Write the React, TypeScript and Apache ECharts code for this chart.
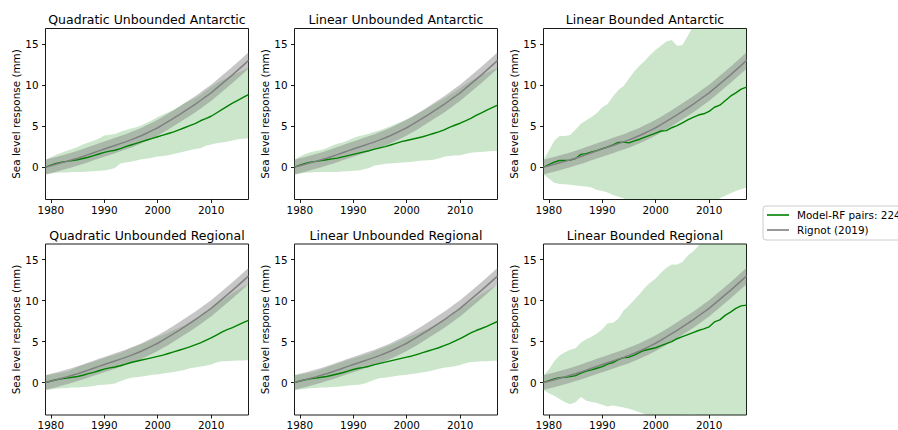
import React, { useEffect, useRef } from "react";
import * as echarts from "echarts";

// ---- data (sea level response, mm, 1979–2017) ----
const years = [
  "1979", "1980", "1981", "1982", "1983", "1984", "1985", "1986", "1987", "1988",
  "1989", "1990", "1991", "1992", "1993", "1994", "1995", "1996", "1997", "1998",
  "1999", "2000", "2001", "2002", "2003", "2004", "2005", "2006", "2007", "2008",
  "2009", "2010", "2011", "2012", "2013", "2014", "2015", "2016", "2017",
];
const xTickYears = [1980, 1990, 2000, 2010];
const yTicks = [0, 5, 10, 15];

// Rignot (2019) cumulative contribution and its uncertainty
const rignotMid = [
  0.0, 0.17, 0.34, 0.52, 0.7, 0.89, 1.09, 1.3, 1.52, 1.75,
  1.98, 2.2, 2.42, 2.64, 2.86, 3.08, 3.32, 3.58, 3.86, 4.16,
  4.47, 4.8, 5.18, 5.57, 5.97, 6.38, 6.8, 7.22, 7.66, 8.12,
  8.58, 9.05, 9.6, 10.15, 10.7, 11.25, 11.82, 12.4, 13.0,
];
const rignotErr = [
  0.9, 0.9, 0.9, 0.9, 0.9, 0.9, 0.9, 0.92, 0.92, 0.92,
  0.93, 0.93, 0.93, 0.94, 0.94, 0.94, 0.95, 0.95, 0.95, 0.96,
  0.96, 0.96, 0.97, 0.97, 0.97, 0.98, 0.98, 0.98, 0.99, 0.99,
  0.99, 1.0, 1.0, 1.0, 1.0, 1.0, 1.0, 1.0, 1.0,
];

// Quadratic Unbounded Antarctic
const quaMid = [
  0.0, 0.25, 0.45, 0.6, 0.7, 0.8, 0.9, 1.05, 1.2, 1.4,
  1.6, 1.8, 1.95, 2.05, 2.25, 2.5, 2.7, 2.9, 3.1, 3.3,
  3.5, 3.7, 3.9, 4.1, 4.3, 4.55, 4.8, 5.05, 5.3, 5.65,
  5.9, 6.2, 6.6, 7.0, 7.4, 7.8, 8.15, 8.5, 8.85,
];
const quaLow = [
  -0.9, -0.8, -0.7, -0.65, -0.65, -0.6, -0.6, -0.6, -0.55, -0.5,
  -0.45, -0.4, -0.3, -0.1, 0.45, 0.55, 0.65, 0.8, 0.95, 1.05,
  1.15, 1.3, 1.35, 1.45, 1.6, 1.75, 1.9, 2.05, 2.2, 2.3,
  2.6, 2.75, 2.9, 3.0, 3.1, 3.25, 3.4, 3.45, 3.5,
];
const quaHigh = [
  0.9, 1.2, 1.5, 1.75, 2.0, 2.2, 2.45, 2.75, 3.0, 3.2,
  3.5, 3.85, 3.95, 4.05, 4.3, 4.5, 4.7, 4.85, 5.1, 5.4,
  5.75, 6.1, 6.4, 6.7, 7.0, 7.4, 7.8, 8.1, 8.4, 8.8,
  9.3, 9.8, 10.2, 10.6, 10.9, 11.2, 11.5, 11.8, 12.1,
];

// Linear Unbounded Antarctic
const luaMid = [
  0.0, 0.25, 0.45, 0.6, 0.7, 0.8, 0.9, 1.0, 1.1, 1.25,
  1.4, 1.55, 1.7, 1.85, 2.0, 2.2, 2.35, 2.5, 2.7, 2.9,
  3.1, 3.25, 3.4, 3.55, 3.7, 3.9, 4.1, 4.3, 4.55, 4.85,
  5.1, 5.35, 5.65, 5.95, 6.3, 6.6, 6.95, 7.25, 7.55,
];
const luaLow = [
  -0.9, -0.8, -0.7, -0.65, -0.6, -0.6, -0.6, -0.6, -0.6, -0.55,
  -0.5, -0.45, -0.4, -0.25, -0.1, 0.2, 0.3, 0.4, 0.45, 0.5,
  0.55, 0.6, 0.65, 0.75, 0.8, 0.85, 0.9, 1.05, 1.25, 1.35,
  1.4, 1.45, 1.6, 1.75, 1.8, 1.85, 1.9, 1.95, 1.95,
];
const luaHigh = [
  0.9, 1.3, 1.6, 1.8, 1.95, 2.1, 2.3, 2.6, 2.85, 3.0,
  3.25, 3.55, 3.75, 3.9, 4.1, 4.3, 4.5, 4.75, 5.0, 5.25,
  5.55, 5.85, 6.15, 6.5, 6.85, 7.2, 7.6, 8.0, 8.35, 8.75,
  9.2, 9.65, 10.1, 10.5, 10.85, 11.2, 11.5, 11.8, 12.1,
];

// Linear Bounded Antarctic
const lbaMid = [
  0.0, 0.3, 0.6, 0.8, 0.8, 0.85, 1.05, 1.55, 1.65, 1.85,
  2.0, 2.25, 2.45, 2.7, 3.0, 3.05, 2.95, 3.2, 3.4, 3.65,
  3.9, 4.15, 4.4, 4.45, 4.8, 5.05, 5.4, 5.75, 6.05, 6.35,
  6.5, 6.8, 7.3, 7.55, 8.1, 8.65, 9.05, 9.5, 9.75,
];
const lbaLow = [
  -0.9, -1.4, -1.9, -2.05, -2.1, -2.15, -2.25, -2.3, -2.35, -2.5,
  -2.8, -2.9, -3.1, -3.4, -3.6, -3.8, -4.2, -4.6, -4.9, -5.2,
  -5.4, -5.6, -5.7, -5.8, -5.8, -5.7, -5.6, -5.5, -5.3, -5.1,
  -4.9, -4.6, -4.3, -3.8, -3.5, -3.2, -2.9, -2.7, -2.5,
];
const lbaHigh = [
  0.9, 2.0, 3.2, 3.8, 3.8, 3.9, 4.6, 5.3, 5.7, 6.1,
  6.6, 7.3, 7.7, 8.6, 9.4, 9.9, 10.8, 11.7, 12.4, 13.0,
  13.7, 14.3, 14.8, 15.3, 15.5, 14.8, 14.9, 16.0, 17.2, 18.0,
  18.8, 19.6, 20.4, 21.2, 22.0, 22.8, 23.6, 24.4, 25.2,
];

// Quadratic Unbounded Regional
const qurMid = [
  0.0, 0.2, 0.35, 0.45, 0.55, 0.65, 0.75, 0.9, 1.1, 1.25,
  1.45, 1.65, 1.8, 1.9, 2.05, 2.25, 2.45, 2.6, 2.75, 2.9,
  3.05, 3.2, 3.35, 3.55, 3.75, 3.95, 4.15, 4.35, 4.6, 4.85,
  5.15, 5.45, 5.8, 6.15, 6.45, 6.7, 7.0, 7.3, 7.6,
];
const qurLow = [
  -0.9, -0.85, -0.75, -0.7, -0.65, -0.6, -0.6, -0.55, -0.5, -0.4,
  -0.3, -0.25, -0.2, -0.1, 0.15, 0.4, 0.6, 0.65, 0.75, 0.85,
  0.95, 1.0, 1.1, 1.2, 1.3, 1.4, 1.55, 1.75, 1.85, 1.95,
  2.05, 2.2, 2.45, 2.6, 2.6, 2.65, 2.7, 2.7, 2.75,
];
const qurHigh = [
  0.9, 1.0, 1.1, 1.2, 1.3, 1.6, 1.9, 2.15, 2.35, 2.55,
  2.8, 3.0, 3.2, 3.4, 3.6, 3.9, 4.2, 4.45, 4.7, 4.95,
  5.3, 5.6, 5.85, 6.1, 6.4, 6.7, 7.0, 7.4, 7.8, 8.2,
  8.65, 9.1, 9.55, 10.0, 10.45, 10.9, 11.3, 11.7, 12.0,
];

// Linear Unbounded Regional
const lurMid = [
  0.0, 0.2, 0.35, 0.45, 0.55, 0.65, 0.75, 0.9, 1.05, 1.2,
  1.4, 1.6, 1.75, 1.85, 2.0, 2.2, 2.35, 2.5, 2.65, 2.8,
  2.95, 3.1, 3.25, 3.45, 3.65, 3.85, 4.05, 4.25, 4.5, 4.75,
  5.05, 5.35, 5.7, 6.05, 6.35, 6.6, 6.85, 7.15, 7.45,
];
const lurLow = [
  -0.9, -0.85, -0.75, -0.7, -0.65, -0.6, -0.6, -0.55, -0.5, -0.45,
  -0.35, -0.3, -0.25, -0.15, 0.1, 0.35, 0.55, 0.6, 0.7, 0.8,
  0.9, 0.95, 1.05, 1.15, 1.25, 1.35, 1.5, 1.7, 1.8, 1.9,
  2.0, 2.15, 2.35, 2.5, 2.55, 2.6, 2.6, 2.65, 2.65,
];
const lurHigh = [
  0.9, 1.0, 1.1, 1.2, 1.35, 1.6, 1.85, 2.1, 2.3, 2.5,
  2.75, 2.95, 3.15, 3.35, 3.55, 3.85, 4.1, 4.35, 4.6, 4.85,
  5.2, 5.5, 5.75, 6.0, 6.3, 6.6, 6.9, 7.3, 7.7, 8.1,
  8.55, 9.0, 9.45, 9.9, 10.35, 10.8, 11.2, 11.6, 11.9,
];

// Linear Bounded Regional
const lbrMid = [
  0.0, 0.25, 0.45, 0.6, 0.65, 0.73, 0.85, 1.15, 1.4, 1.55,
  1.75, 1.95, 2.25, 2.45, 2.8, 3.05, 3.1, 3.35, 3.7, 3.95,
  4.1, 4.25, 4.5, 4.75, 5.0, 5.35, 5.6, 5.85, 6.1, 6.35,
  6.55, 6.8, 7.4, 7.65, 8.2, 8.6, 9.05, 9.35, 9.45,
];
const lbrLow = [
  -0.9, -1.3, -1.6, -2.0, -2.4, -2.65, -2.4, -1.75, -2.2, -2.35,
  -2.5, -2.7, -2.9, -2.8, -2.9, -3.05, -3.2, -3.4, -3.6, -3.85,
  -4.1, -4.3, -4.4, -4.4, -4.3, -4.2, -4.05, -3.9, -3.85, -4.05,
  -4.3, -4.6, -4.9, -5.2, -5.5, -5.8, -6.0, -6.2, -6.4,
];
const lbrHigh = [
  0.9, 1.6, 2.6, 3.3, 3.7, 4.0, 4.2, 4.9, 5.3, 5.6,
  6.0, 6.5, 7.25, 7.3, 7.8, 8.8, 9.4, 10.1, 10.8, 11.6,
  12.2, 12.7, 13.4, 14.0, 14.4, 14.4, 14.7, 15.5, 16.0, 16.7,
  17.4, 18.1, 18.8, 19.5, 20.2, 20.9, 21.6, 22.3, 23.0,
];

const panelTitles = [
  "Quadratic Unbounded Antarctic",
  "Linear Unbounded Antarctic",
  "Linear Bounded Antarctic",
  "Quadratic Unbounded Regional",
  "Linear Unbounded Regional",
  "Linear Bounded Regional",
];
const panelMid = [quaMid, luaMid, lbaMid, qurMid, lurMid, lbrMid];
const panelLow = [quaLow, luaLow, lbaLow, qurLow, lurLow, lbrLow];
const panelHigh = [quaHigh, luaHigh, lbaHigh, qurHigh, lurHigh, lbrHigh];

const MODEL_NAME = "Model-RF pairs: 224";
const OBS_NAME = "Rignot (2019)";

// ---- layout & style ----
const FONT = "DejaVu Sans";
const COL_LEFT = [45.5, 294.5, 543.5];
const ROW_TOP = [28.5, 244];
const TITLE_Y = [19, 235];
const PLOT_W = 203;
const PLOT_H = 171;

const GREEN = "#008000";
const GREEN_FILL = "rgba(0,128,0,0.2)";
const GRAY = "#808080";
const GRAY_FILL = "rgba(128,128,128,0.45)";

function buildOption() {
  const grid: any[] = [];
  const xAxis: any[] = [];
  const yAxis: any[] = [];
  const series: any[] = [];
  const graphic: any[] = [];

  const isDecade = (_idx: number, val: string) => xTickYears.indexOf(Number(val)) >= 0;

  panelTitles.forEach((title, i) => {
    const col = i % 3;
    const row = Math.floor(i / 3);
    grid.push({
      left: COL_LEFT[col],
      top: ROW_TOP[row],
      width: PLOT_W,
      height: PLOT_H,
      show: true,
      borderColor: "#000",
      borderWidth: 0.9,
      backgroundColor: "transparent",
      containLabel: false,
      outerBoundsMode: "none",
    });
    xAxis.push({
      type: "category",
      gridIndex: i,
      position: "bottom",
      data: years,
      boundaryGap: false,
      axisLine: { show: false, onZero: false },
      axisTick: {
        show: true,
        inside: false,
        length: 3.5,
        interval: isDecade,
        lineStyle: { color: "#000", width: 0.9 },
      },
      axisLabel: {
        interval: isDecade,
        color: "#000",
        fontSize: 10.4,
        fontFamily: FONT,
        margin: 5,
      },
      splitLine: { show: false },
    });
    yAxis.push({
      type: "value",
      gridIndex: i,
      position: "left",
      min: -3.95,
      max: 16.9,
      axisLine: { show: false, onZero: false },
      axisTick: {
        show: true,
        inside: false,
        length: 3.5,
        customValues: yTicks,
        lineStyle: { color: "#000", width: 0.9 },
      },
      axisLabel: {
        customValues: yTicks,
        color: "#000",
        fontSize: 10.4,
        fontFamily: FONT,
        margin: 7,
      },
      splitLine: { show: false },
      name: "Sea level response (mm)",
      nameLocation: "middle",
      nameGap: 23,
      nameTextStyle: { color: "#000", fontSize: 10.4, fontFamily: FONT },
    });

    const low = panelLow[i];
    const high = panelHigh[i];
    const rLow = rignotMid.map((v, k) => v - rignotErr[k]);
    const rSpan = rignotErr.map((e) => 2 * e);
    const common = {
      type: "line",
      xAxisIndex: i,
      yAxisIndex: i,
      symbol: "none",
      silent: true,
      emphasis: { disabled: true },
      clip: true,
    };

    // model spread
    series.push({
      ...common,
      name: "model-low-" + i,
      data: low,
      stack: "model" + i,
      stackStrategy: "all",
      lineStyle: { opacity: 0, width: 0 },
    });
    series.push({
      ...common,
      name: "model-band-" + i,
      data: high.map((h, k) => h - low[k]),
      stack: "model" + i,
      stackStrategy: "all",
      lineStyle: { opacity: 0, width: 0 },
      areaStyle: { color: GREEN_FILL, opacity: 1 },
    });
    // observational uncertainty
    series.push({
      ...common,
      name: "obs-low-" + i,
      data: rLow,
      stack: "obs" + i,
      stackStrategy: "all",
      lineStyle: { opacity: 0, width: 0 },
    });
    series.push({
      ...common,
      name: "obs-band-" + i,
      data: rSpan,
      stack: "obs" + i,
      stackStrategy: "all",
      lineStyle: { opacity: 0, width: 0 },
      areaStyle: { color: GRAY_FILL, opacity: 1 },
    });
    // central estimates
    series.push({
      ...common,
      name: MODEL_NAME,
      data: panelMid[i],
      itemStyle: { color: GREEN },
      lineStyle: { color: GREEN, width: 1.4 },
    });
    series.push({
      ...common,
      name: OBS_NAME,
      data: rignotMid,
      itemStyle: { color: GRAY },
      lineStyle: { color: GRAY, width: 1.5 },
    });

    graphic.push({
      type: "text",
      x: COL_LEFT[col] + PLOT_W / 2,
      y: TITLE_Y[row],
      style: {
        text: title,
        fill: "#000",
        fontSize: 12.5,
        fontFamily: FONT,
        align: "center",
        verticalAlign: "middle",
        textAlign: "center",
        textVerticalAlign: "middle",
      },
    });
  });

  return {
    animation: false,
    backgroundColor: "#fff",
    textStyle: { fontFamily: FONT },
    grid,
    xAxis,
    yAxis,
    series,
    graphic,
    legend: {
      data: [MODEL_NAME, OBS_NAME],
      orient: "vertical",
      left: 763,
      top: 206,
      icon: "rect",
      itemWidth: 22,
      itemHeight: 1.6,
      itemGap: 3,
      padding: [3, 6, 4, 4],
      borderColor: "#cccccc",
      borderWidth: 1,
      borderRadius: 3,
      backgroundColor: "#fff",
      selectedMode: false,
      textStyle: {
        color: "#000",
        fontSize: 10.4,
        fontFamily: FONT,
        lineHeight: 12,
        padding: [0, 0, 0, 3],
      },
    },
  };
}

export default function App() {
  const ref = useRef<HTMLDivElement>(null);
  useEffect(() => {
    if (!ref.current) return;
    const chart = echarts.init(ref.current, null, { renderer: "svg" });
    chart.setOption(buildOption() as any);
    return () => chart.dispose();
  }, []);
  return (
    <div
      ref={ref}
      style={{ position: "fixed", left: 0, top: 0, width: 898, height: 430, background: "#fff" }}
    />
  );
}
